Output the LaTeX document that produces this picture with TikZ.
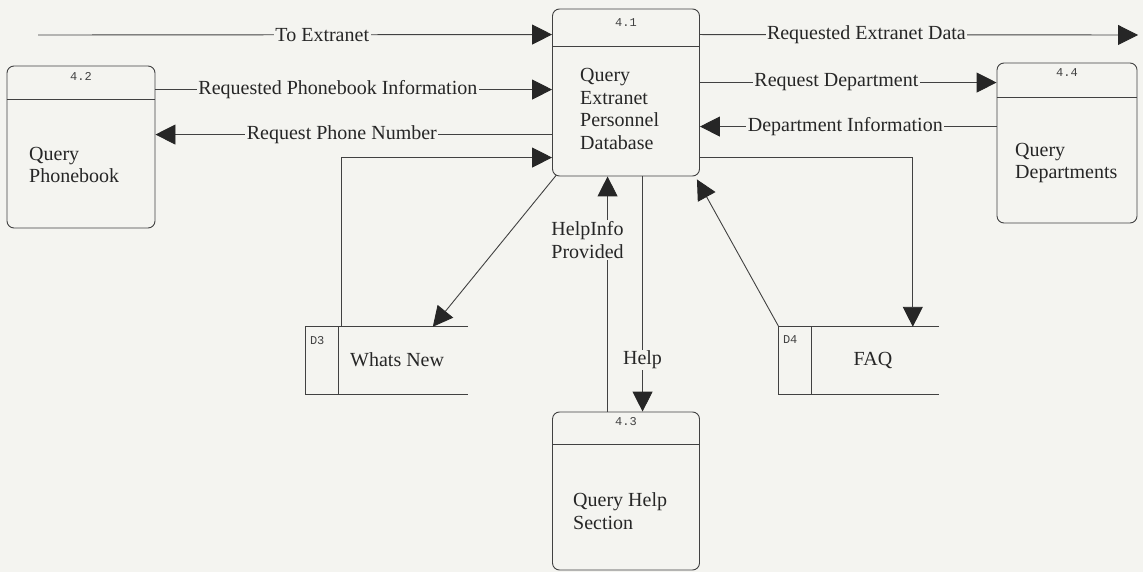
\documentclass[tikz,border=0pt]{standalone}
\usepackage{fontspec}
\setmainfont{Liberation Serif}
\newfontfamily\monofont{Liberation Mono}
\usetikzlibrary{arrows.meta}
\definecolor{paper}{RGB}{244,244,240}
\definecolor{ink}{RGB}{65,65,65}
\begin{document}
\begin{tikzpicture}[x=1pt,y=-1pt,
  proc/.style={draw=ink, line width=0.9pt, rounded corners=7pt, rectangle, inner sep=0pt},
  flow/.style={draw=ink, line width=0.9pt, -{Triangle[length=20pt,width=20pt,color=black!85]}},
  plain/.style={draw=ink, line width=0.9pt},
  lab/.style={fill=paper, inner xsep=1.5pt, inner ysep=1pt, text=black!85, font=\fontsize{20}{23}\selectfont},
  body/.style={align=left, anchor=west, inner sep=0pt, text=black!85, font=\fontsize{20}{22.7}\selectfont},
  num/.style={inner sep=0pt, text=ink, font=\monofont\fontsize{12}{14}\selectfont},
  store/.style={rectangle, inner sep=0pt}]
\fill[paper] (0,0) rectangle (1143,572);
\useasboundingbox (0,0) rectangle (1143,572);

% processes
\node[proc, minimum width=147pt, minimum height=167pt] (p41) at (626,92.5) {};
\node[proc, minimum width=148pt, minimum height=162pt] (p42) at (81,147) {};
\node[proc, minimum width=140pt, minimum height=160pt] (p44) at (1067,143) {};
\node[proc, minimum width=147pt, minimum height=158pt] (p43) at (626,491) {};

\draw[plain] ([yshift=-38pt]p41.north west) -- ([yshift=-38pt]p41.north east);
\draw[plain] ([yshift=-34pt]p42.north west) -- ([yshift=-34pt]p42.north east);
\draw[plain] ([yshift=-35pt]p44.north west) -- ([yshift=-35pt]p44.north east);
\draw[plain] ([yshift=-33pt]p43.north west) -- ([yshift=-33pt]p43.north east);

\node[num] (n41) at ([yshift=-14pt]p41.north) {4.1};
\node[num] (n42) at ([yshift=-11pt]p42.north) {4.2};
\node[num] (n44) at ([yshift=-10pt]p44.north) {4.4};
\node[num] (n43) at ([yshift=-10pt]p43.north) {4.3};

\node[body] (t41) at (580,109) {Query\\Extranet\\Personnel\\Database};
\node[body] (t42) at (29,165) {Query\\Phonebook};
\node[body] (t44) at (1015,163) {Query\\Departments};
\node[body] (t43) at (573,511) {Query Help\\Section};

% data stores
\node[store, minimum width=162pt, minimum height=67pt] (d3) at (387,360.5) {};
\draw[plain] (d3.north east) -- (d3.north west) -- (d3.south west) -- (d3.south east);
\draw[plain] ([xshift=33pt]d3.north west) -- ([xshift=33pt]d3.south west);
\node[num, anchor=north west] (l3) at ([xshift=4pt,yshift=-9pt]d3.north west) {D3};
\node[body] (t3) at (350,360) {Whats New};

\node[store, minimum width=160pt, minimum height=67pt] (d4) at (859,360.5) {};
\draw[plain] (d4.north east) -- (d4.north west) -- (d4.south west) -- (d4.south east);
\draw[plain] ([xshift=33pt]d4.north west) -- ([xshift=33pt]d4.south west);
\node[num, anchor=north west] (l4) at ([xshift=4pt,yshift=-9pt]d4.north west) {D4};
\node[body, anchor=center] (t4) at (873,360) {FAQ};

% free ends
\coordinate (src) at (38,35);
\coordinate (sink) at (1138,35);

% flows on the left
\draw[flow] (src) -- node[lab, pos=0.553] {To Extranet} ([yshift=-26pt]p41.north west);
\draw[flow] ([yshift=-24pt]p42.north east) -- node[lab, pos=0.46] {Requested Phonebook Information} ([yshift=-81pt]p41.north west);
\draw[flow] ([yshift=-126pt]p41.north west) -- node[lab, pos=0.53] {Request Phone Number} ([yshift=-69pt]p42.north east);
\draw[flow] ([xshift=36pt]d3.north west) |- ([yshift=-149pt]p41.north west);
\draw[flow] ([xshift=4pt,yshift=1pt]p41.south west) -- ([xshift=127pt]d3.north west);

% help flows
\draw[flow] ([xshift=55.5pt]p43.north west) -- node[lab, align=left, pos=0.73, xshift=-20pt] {HelpInfo\\Provided} ([xshift=55.5pt]p41.south west);
\draw[flow] ([xshift=90.5pt]p41.south west) -- node[lab, pos=0.78] {Help} ([xshift=90.5pt]p43.north west);

% FAQ flows
\draw[flow] (d4.north west) -- ([xshift=-3pt,yshift=-3pt]p41.south east);
\draw[flow] ([yshift=-149pt]p41.north east) -| ([xshift=134pt]d4.north west);

% flows on the right
\draw[flow] ([yshift=-26pt]p41.north east) -- node[lab, pos=0.38] {Requested Extranet Data} (sink);
\draw[flow] ([yshift=-74pt]p41.north east) -- node[lab, pos=0.46] {Request Department} ([yshift=-20pt]p44.north west);
\draw[flow] ([yshift=-64pt]p44.north west) -- node[lab, pos=0.51] {Department Information} ([yshift=-118pt]p41.north east);
\end{tikzpicture}
\end{document}
